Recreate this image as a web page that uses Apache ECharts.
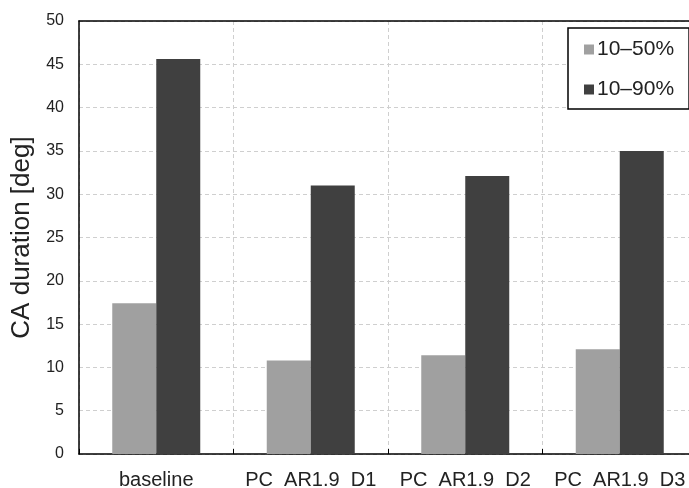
<!DOCTYPE html>
<html>
<head>
<meta charset="utf-8">
<script src="https://cdn.jsdelivr.net/npm/echarts@6/dist/echarts.min.js"></script>
<style>
  html, body { margin: 0; padding: 0; background: #fff; }
  #chart { width: 689px; height: 488px; }
</style>
</head>
<body>
<div id="chart"></div>
<script>
// Crank-angle durations per configuration
const categories = ['baseline', 'PC  AR1.9  D1', 'PC  AR1.9  D2', 'PC  AR1.9  D3'];
const seriesNames = ['10–50%', '10–90%'];
const dur10to50 = [17.4, 10.8, 11.4, 12.1];
const dur10to90 = [45.6, 31.0, 32.1, 35.0];
const yTicks = { min: 0, max: 50, interval: 5 };

const FONT = 'Liberation Sans, Arial, sans-serif';
const chart = echarts.init(document.getElementById('chart'), null, { renderer: 'canvas' });

chart.setOption({
  animation: false,
  backgroundColor: '#ffffff',
  textStyle: { fontFamily: FONT },
  grid: {
    left: 79, top: 21, width: 618, height: 433,
    containLabel: false,
    outerBoundsMode: 'none'
  },
  legend: {
    orient: 'vertical',
    left: 568,
    top: 28,
    padding: [11, 15, 9, 16],
    itemGap: 19,
    itemWidth: 10,
    itemHeight: 10,
    icon: 'rect',
    borderColor: '#000',
    borderWidth: 1.5,
    backgroundColor: '#fff',
    textStyle: { fontSize: 21, color: '#222', fontFamily: FONT, padding: [0, 0, 0, -2] },
    data: seriesNames
  },
  xAxis: [
    {
      type: 'category',
      data: categories,
      boundaryGap: true,
      axisLine: { show: true, lineStyle: { color: '#000', width: 1.5 } },
      axisTick: { show: true, inside: true, length: 5, interval: 0, lineStyle: { color: '#000' } },
      axisLabel: { interval: 0, fontSize: 20, color: '#222', margin: 16, fontFamily: FONT },
      splitLine: { show: true, interval: 0, lineStyle: { color: '#cfcfcf', type: [4, 3], width: 1 } }
    },
    {
      type: 'category',
      position: 'top',
      data: categories,
      axisLine: { show: true, lineStyle: { color: '#000', width: 1.5 } },
      axisTick: { show: false },
      axisLabel: { show: false },
      splitLine: { show: false }
    }
  ],
  yAxis: {
    type: 'value',
    min: yTicks.min,
    max: yTicks.max,
    interval: yTicks.interval,
    name: 'CA duration [deg]',
    nameLocation: 'middle',
    nameGap: 41,
    nameTextStyle: { fontSize: 26, color: '#222', fontFamily: FONT },
    axisLine: { show: true, lineStyle: { color: '#000', width: 1.5 } },
    axisTick: { show: false },
    axisLabel: { fontSize: 16, color: '#222', margin: 15, fontFamily: FONT },
    splitLine: { show: true, lineStyle: { color: '#cfcfcf', type: [4, 3], width: 1 } }
  },
  series: [
    {
      name: seriesNames[0],
      type: 'bar',
      data: dur10to50,
      barWidth: 44,
      barGap: '0%',
      itemStyle: { color: '#a0a0a0' }
    },
    {
      name: seriesNames[1],
      type: 'bar',
      data: dur10to90,
      barWidth: 44,
      barGap: '0%',
      itemStyle: { color: '#404040' }
    }
  ]
});
</script>
</body>
</html>
